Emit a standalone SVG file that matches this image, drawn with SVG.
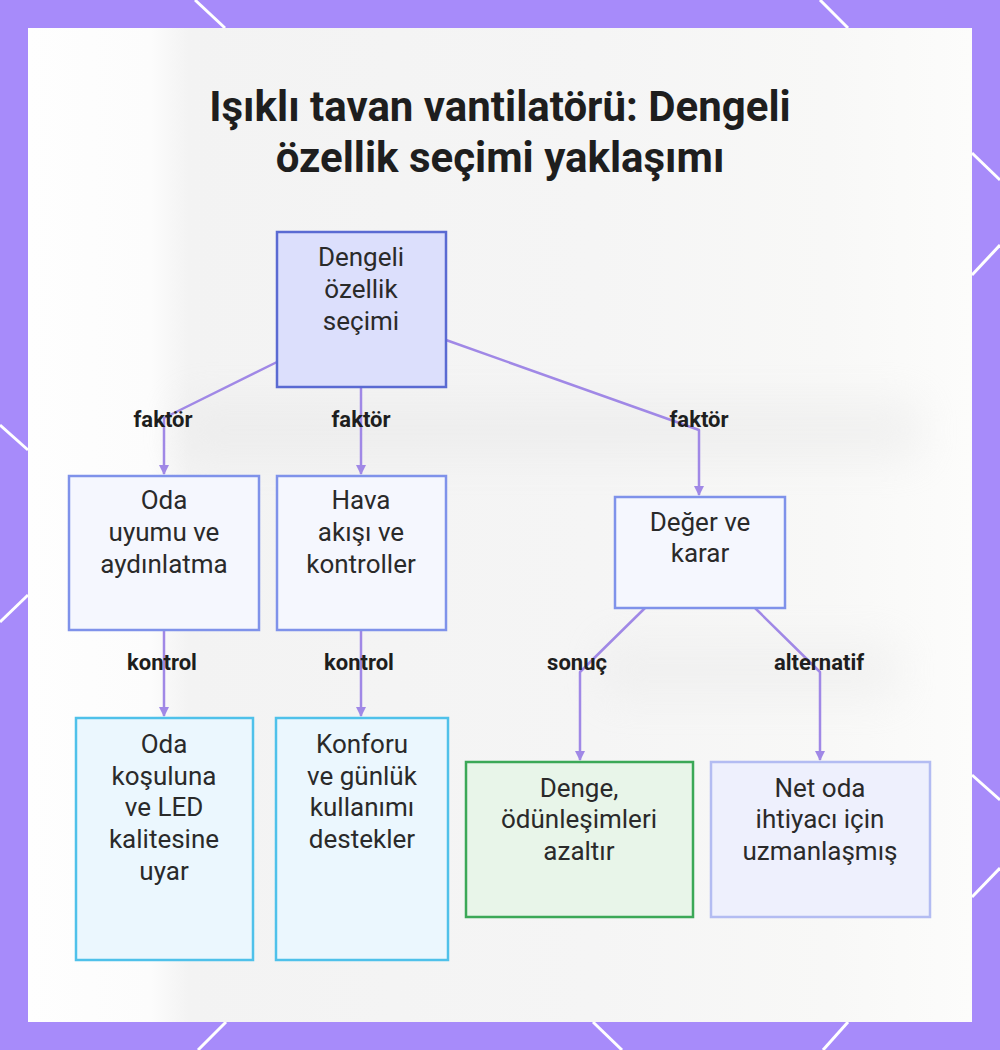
<svg xmlns="http://www.w3.org/2000/svg" width="1000" height="1050" viewBox="0 0 1000 1050">
<defs>
<style>
.node-text{font-family:Roboto,"Liberation Sans",sans-serif;font-size:26px;fill:#2a2a2a;text-anchor:middle}
.lbl{font-family:Roboto,"Liberation Sans",sans-serif;font-size:22px;font-weight:bold;fill:#1e1e1e;text-anchor:middle}
.title{font-family:Roboto,"Liberation Sans",sans-serif;font-size:42px;font-weight:bold;fill:#1e1e1e;text-anchor:middle}
.conn{fill:none;stroke:#a088e6;stroke-width:2.5;stroke-linejoin:round}
.mid{fill:#f5f7fe;stroke:#7f92ea;stroke-width:2.5}
.leaf{fill:#ebf7fe;stroke:#4fc1ea;stroke-width:2.5}
.frame-line{stroke:#ffffff;stroke-width:3}
</style>
<marker id="arr" viewBox="0 0 10 10" refX="9" refY="5" markerWidth="4" markerHeight="4" orient="auto">
<path d="M0,0 L10,5 L0,10 z" fill="#a088e6"/>
</marker>
<linearGradient id="bg" x1="0" y1="0" x2="1" y2="0">
<stop offset="0" stop-color="#fefefe"/>
<stop offset="0.13" stop-color="#fcfcfc"/>
<stop offset="0.17" stop-color="#f3f3f3"/>
<stop offset="0.6" stop-color="#f5f5f5"/>
<stop offset="0.85" stop-color="#f8f8f7"/>
<stop offset="1" stop-color="#fcfcfb"/>
</linearGradient>
<filter id="blur" x="-50%" y="-50%" width="200%" height="200%"><feGaussianBlur stdDeviation="20"/></filter>
</defs>
<rect x="0" y="0" width="1000" height="1050" fill="#a78bfa"/>
<g id="frame-lines">
<line class="frame-line" x1="195" y1="0" x2="225" y2="28"/>
<line class="frame-line" x1="820" y1="0" x2="848" y2="28"/>
<line class="frame-line" x1="972" y1="153" x2="1000" y2="180"/>
<line class="frame-line" x1="972" y1="275" x2="1000" y2="245"/>
<line class="frame-line" x1="0" y1="425" x2="28" y2="450"/>
<line class="frame-line" x1="0" y1="622" x2="28" y2="595"/>
<line class="frame-line" x1="972" y1="775" x2="1000" y2="800"/>
<line class="frame-line" x1="972" y1="897" x2="1000" y2="868"/>
<line class="frame-line" x1="226" y1="1022" x2="198" y2="1050"/>
<line class="frame-line" x1="593" y1="1022" x2="622" y2="1050"/>
<line class="frame-line" x1="848" y1="1022" x2="823" y2="1050"/>
</g>
<rect x="28" y="28" width="944" height="994" fill="url(#bg)"/>
<g filter="url(#blur)" opacity="0.35">
<rect x="180" y="400" width="740" height="60" fill="#e2e2e2"/>
<rect x="600" y="640" width="300" height="60" fill="#e6e6e6"/>
</g>
<text class="title" x="500" y="121">Işıklı tavan vantilatörü: Dengeli</text>
<text class="title" x="500" y="172">özellik seçimi yaklaşımı</text>
<g id="connectors">
<path class="conn" d="M277,362 L164,418 L164,474" marker-end="url(#arr)"/>
<path class="conn" d="M361,387 L361,474" marker-end="url(#arr)"/>
<path class="conn" d="M446,340 L699,430 L699,495" marker-end="url(#arr)"/>
<path class="conn" d="M164,630 L164,716" marker-end="url(#arr)"/>
<path class="conn" d="M361,630 L361,716" marker-end="url(#arr)"/>
<path class="conn" d="M645,608 L580,672 L580,760" marker-end="url(#arr)"/>
<path class="conn" d="M755,608 L820,672 L820,760" marker-end="url(#arr)"/>
<text class="lbl" x="163" y="427">faktör</text>
<text class="lbl" x="361" y="427">faktör</text>
<text class="lbl" x="699" y="427">faktör</text>
<text class="lbl" x="162" y="670">kontrol</text>
<text class="lbl" x="359" y="670">kontrol</text>
<text class="lbl" x="577" y="670">sonuç</text>
<text class="lbl" x="819" y="670">alternatif</text>
</g>
<g id="root">
<rect x="277" y="232" width="169" height="155" fill="#dcdffc" stroke="#5a6ad2" stroke-width="2.5"/>
<text class="node-text" x="361" y="266">Dengeli</text>
<text class="node-text" x="361" y="298">özellik</text>
<text class="node-text" x="361" y="330">seçimi</text>
</g>
<g id="oda-uyumu">
<rect class="mid" x="69" y="476" width="190" height="154"/>
<text class="node-text" x="164" y="509">Oda</text>
<text class="node-text" x="164" y="541">uyumu ve</text>
<text class="node-text" x="164" y="573">aydınlatma</text>
</g>
<g id="hava-akisi">
<rect class="mid" x="277" y="476" width="169" height="154"/>
<text class="node-text" x="361" y="509">Hava</text>
<text class="node-text" x="361" y="541">akışı ve</text>
<text class="node-text" x="361" y="573">kontroller</text>
</g>
<g id="deger">
<rect class="mid" x="615" y="497" width="170" height="111"/>
<text class="node-text" x="700" y="531">Değer ve</text>
<text class="node-text" x="700" y="562">karar</text>
</g>
<g id="oda-kosulu">
<rect class="leaf" x="76" y="718" width="177" height="242"/>
<text class="node-text" x="164" y="753">Oda</text>
<text class="node-text" x="164" y="785">koşuluna</text>
<text class="node-text" x="164" y="816">ve LED</text>
<text class="node-text" x="164" y="848">kalitesine</text>
<text class="node-text" x="164" y="880">uyar</text>
</g>
<g id="konforu">
<rect class="leaf" x="276" y="718" width="172" height="242"/>
<text class="node-text" x="362" y="753">Konforu</text>
<text class="node-text" x="362" y="785">ve günlük</text>
<text class="node-text" x="362" y="816">kullanımı</text>
<text class="node-text" x="362" y="848">destekler</text>
</g>
<g id="denge">
<rect x="466" y="762" width="227" height="155" fill="#e8f5e9" stroke="#3ba857" stroke-width="2.5"/>
<text class="node-text" x="579" y="797">Denge,</text>
<text class="node-text" x="579" y="828">ödünleşimleri</text>
<text class="node-text" x="579" y="860">azaltır</text>
</g>
<g id="net-oda">
<rect x="711" y="762" width="219" height="155" fill="#eef0fd" stroke="#b3bcf2" stroke-width="2.5"/>
<text class="node-text" x="820" y="797">Net oda</text>
<text class="node-text" x="820" y="828">ihtiyacı için</text>
<text class="node-text" x="820" y="860">uzmanlaşmış</text>
</g>
</svg>
